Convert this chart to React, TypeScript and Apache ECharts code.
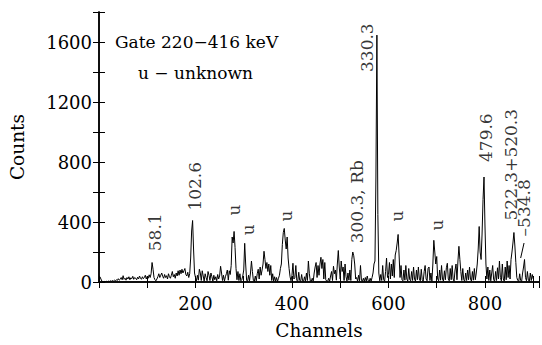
import React, { useEffect, useRef } from "react";
import * as echarts from "echarts";

// Counts per 2-channel step, channels 0..900
const CHANNEL_STEP = 2;
const counts: number[] = [
  // 0-48
  40, 35, 20, 5, 3, 2, 4, 2, 5, 3, 6, 4, 8, 5, 10, 6, 12, 8, 15, 10, 22, 12, 18, 30, 15,
  // 50-98
  42, 18, 25, 12, 30, 20, 35, 15, 28, 22, 38, 18, 30, 25, 15, 32, 20, 40, 25, 18, 35, 22, 30, 45, 20,
  // 100-148
  38, 25, 48, 30, 55, 130, 85, 30, 15, 8, 20, 35, 55, 30, 45, 60, 38, 25, 50, 30, 42, 20, 55, 35, 25,
  // 150-198
  45, 70, 35, 50, 25, 60, 40, 75, 45, 80, 55, 85, 60, 75, 90, 50, 40, 65, 30, 55, 160, 340, 410, 220, 60,
  // 200-248
  30, 8, 45, 12, 85, 60, 10, 75, 40, 5, 55, 30, 8, 70, 45, 10, 60, 35, 6, 45, 15, 35, 8, 50, 20,
  // 250-298
  40, 105, 60, 10, 45, 6, 35, 55, 80, 12, 75, 50, 110, 300, 260, 337, 230, 90, 15, 70, 10, 55, 8, 15, 40,
  // 300-348
  80, 258, 120, 10, 5, 45, 8, 60, 140, 70, 10, 5, 40, 8, 55, 85, 20, 100, 45, 80, 120, 205, 150, 90, 130,
  // 350-398
  70, 120, 45, 110, 10, 55, 6, 35, 5, 30, 4, 25, 45, 90, 120, 250, 330, 357, 280, 220, 300, 160, 90, 35, 8,
  // 400-448
  45, 125, 20, 30, 110, 10, 5, 65, 10, 5, 50, 8, 4, 35, 6, 60, 10, 140, 55, 6, 4, 25, 5, 60, 100,
  // 450-498
  130, 30, 110, 45, 120, 165, 90, 150, 20, 130, 15, 6, 4, 25, 5, 40, 70, 10, 105, 55, 80, 12, 120, 210, 100,
  // 500-548
  20, 140, 70, 100, 10, 120, 35, 6, 60, 12, 80, 10, 150, 200, 175, 120, 20, 30, 5, 45, 8, 110, 10, 5, 25,
  // 550-598
  4, 30, 6, 40, 8, 4, 25, 5, 30, 60, 120, 140, 700, 1646, 450, 60, 8, 50, 10, 110, 15, 6, 70, 160, 30,
  // 600-648
  50, 130, 20, 120, 40, 150, 30, 180, 210, 260, 317, 180, 30, 110, 15, 8, 80, 12, 110, 20, 6, 90, 15, 8, 70,
  // 650-698
  10, 100, 20, 6, 80, 15, 100, 20, 8, 85, 15, 5, 70, 110, 20, 8, 90, 100, 10, 60, 6, 120, 278, 200, 120,
  // 700-748
  170, 20, 8, 80, 12, 110, 20, 6, 75, 15, 95, 125, 20, 8, 90, 15, 110, 20, 5, 80, 120, 15, 140, 238, 150,
  // 750-798
  70, 10, 90, 15, 5, 60, 10, 80, 15, 100, 20, 6, 70, 12, 90, 15, 60, 120, 220, 370, 200, 150, 320, 550, 700,
  // 800-848
  380, 120, 20, 100, 10, 80, 8, 60, 110, 15, 5, 70, 10, 95, 20, 140, 30, 8, 120, 20, 6, 100, 15, 140, 30,
  // 850-900
  110, 20, 150, 200, 260, 330, 240, 130, 30, 10, 5, 55, 10, 4, 60, 100, 150, 30, 8, 70, 12, 5, 60, 10, 50, 20,
];

// Peak labels: channel, count at the label's lower end, text
const peakLabelChannels = [116, 200, 280, 308, 388, 535, 555, 618, 700, 802, 853, 881];
const peakLabelCounts = [205, 476, 443, 311, 403, 258, 1400, 403, 344, 800, 410, 304];
const peakLabelTexts = [
  "58.1", "102.6", "u", "u", "u", "300.3, Rb", "330.3", "u", "u", "479.6", "522.3+520.3", "\u2013534.8",
];

// leader line for 534.8 label
const leaderChannels = [874, 881];
const leaderCounts = [160, 260];

const xTickLabels = [200, 400, 600, 800];
const yTickLabels = [0, 400, 800, 1200, 1600];

const FONT = "DejaVu Serif";

export default function App() {
  const ref = useRef<HTMLDivElement>(null);
  useEffect(() => {
    if (!ref.current) return;
    const chart = echarts.init(ref.current, undefined, { renderer: "svg" });
    const spectrum = counts.map((v, i) => [i * CHANNEL_STEP, v]);
    const labels = peakLabelChannels.map((c, i) => ({
      value: [c, peakLabelCounts[i]],
      name: peakLabelTexts[i],
    }));
    const axisLine = { show: true, lineStyle: { color: "#000", width: 1.5 } };
    const tick = { show: true, inside: true, length: 6, lineStyle: { color: "#000", width: 1 } };
    chart.setOption({
      animation: false,
      textStyle: { fontFamily: FONT },
      grid: { left: 95, right: 0, top: 12, bottom: 61 },
      xAxis: [
        {
          type: "value",
          position: "bottom",
          min: 0,
          max: 912,
          interval: 100,
          axisLine,
          axisTick: tick,
          splitLine: { show: false },
          axisLabel: {
            color: "#000",
            fontFamily: FONT,
            fontSize: 18,
            margin: 12,
            formatter: (v: number) => (xTickLabels.includes(v) ? String(v) : ""),
          },
          name: "Channels",
          nameLocation: "middle",
          nameGap: 39,
          nameTextStyle: { color: "#000", fontFamily: FONT, fontSize: 18.5 },
        },
        {
          type: "value",
          position: "top",
          min: 0,
          max: 912,
          interval: 100,
          axisLine,
          axisTick: tick,
          axisLabel: { show: false },
          splitLine: { show: false },
        },
      ],
      yAxis: [
        {
          type: "value",
          position: "left",
          min: 0,
          max: 1800,
          interval: 200,
          axisLine,
          axisTick: tick,
          splitLine: { show: false },
          axisLabel: {
            color: "#000",
            fontFamily: FONT,
            fontSize: 18,
            margin: 7,
            formatter: (v: number) => (yTickLabels.includes(v) ? String(v) : ""),
          },
          name: "Counts",
          nameLocation: "middle",
          nameGap: 72,
          nameTextStyle: { color: "#000", fontFamily: FONT, fontSize: 18.5 },
        },
        {
          type: "value",
          position: "right",
          min: 0,
          max: 1800,
          interval: 200,
          axisLine,
          axisTick: tick,
          axisLabel: { show: false },
          splitLine: { show: false },
        },
      ],
      series: [
        {
          type: "line",
          data: spectrum,
          showSymbol: false,
          lineStyle: { color: "#000", width: 1 },
          clip: true,
          z: 2,
        },
        {
          type: "scatter",
          data: labels,
          symbolSize: 1,
          itemStyle: { color: "rgba(0,0,0,0)" },
          label: {
            show: true,
            formatter: "{b}",
            position: "inside",
            rotate: 90,
            align: "left",
            verticalAlign: "middle",
            color: "#000",
            fontFamily: FONT,
            fontSize: 17,
          },
          z: 3,
        },
        {
          type: "line",
          data: leaderChannels.map((c, i) => [c, leaderCounts[i]]),
          showSymbol: false,
          lineStyle: { color: "#000", width: 1 },
          z: 3,
        },
      ],
      graphic: [
        {
          type: "text",
          x: 115,
          y: 42,
          style: {
            text: "Gate 220\u2212416 keV",
            fill: "#000",
            fontFamily: FONT,
            fontSize: 17,
            textVerticalAlign: "middle",
          },
        },
        {
          type: "text",
          x: 138,
          y: 73,
          style: {
            text: "u \u2212 unknown",
            fill: "#000",
            fontFamily: FONT,
            fontSize: 17,
            textVerticalAlign: "middle",
          },
        },
      ],
    });
    return () => chart.dispose();
  }, []);
  return (
    <div
      ref={ref}
      style={{ position: "fixed", left: 0, top: 0, width: 542, height: 345, background: "#fff" }}
    />
  );
}
